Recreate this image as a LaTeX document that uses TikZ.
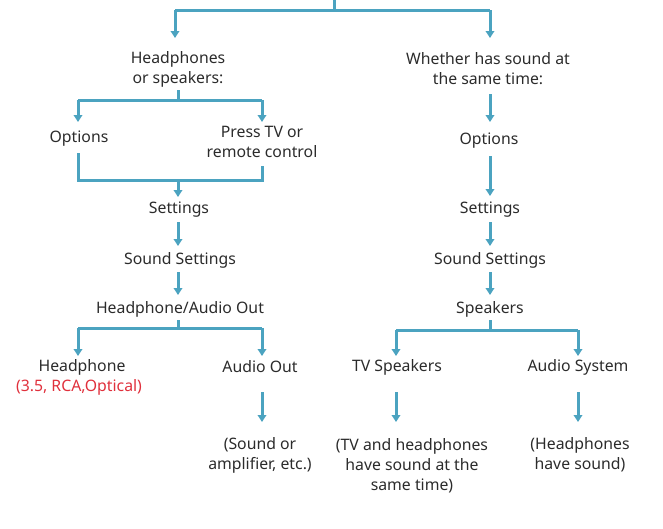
\documentclass[tikz,border=0pt]{standalone}
\usepackage{fontspec}
\setmainfont{Noto Sans}
\usetikzlibrary{arrows.meta}
\definecolor{ln}{HTML}{4BA3C0}
\definecolor{tx}{HTML}{2B2B2B}
\definecolor{rd}{HTML}{E0303C}
\begin{document}
\begin{tikzpicture}[x=1pt,y=-1pt,
  every node/.style={font=\fontsize{15.8}{20}\selectfont,text=tx,align=center,inner sep=1pt},
  ln/.style={draw=ln,line width=3pt},
  ar/.style={ln,-{Triangle[width=8.5pt,length=7pt]}}]
\useasboundingbox (0,0) rectangle (663,528);
% nodes
\node (hs) at (178,69) {Headphones\\or speakers:};
\node (ws) at (488,69) {Whether has sound at\\the same time:};
\node (o1) at (79,139) {Options};
\node (pt) at (262,142) {Press TV or\\remote control};
\node (s1) at (179,210) {Settings};
\node (ss1) at (180,260) {Sound Settings};
\node (ha) at (180,309) {Headphone/Audio Out};
\node (hp) at (82,367) {Headphone};
\node[text=rd] (rca) at (79,387) {(3.5, RCA,Optical)};
\node (ao) at (260,367) {Audio Out};
\node (sa) at (260,455) {(Sound or\\amplifier, etc.)};
\node (o2) at (489,141) {Options};
\node (s2) at (490,210) {Settings};
\node (ss2) at (490,260) {Sound Settings};
\node (sp) at (490,309) {Speakers};
\node (tv) at (397,367) {TV Speakers};
\node (as) at (578,367) {Audio System};
\node (tvh) at (412,466) {(TV and headphones\\have sound at the\\same time)};
\node (hh) at (580,455) {(Headphones\\have sound)};
% junction coordinates
\coordinate (t0) at (334,0); \coordinate (t1) at (334,10);
\coordinate (tl) at (175,10); \coordinate (tr) at (490,10);
\coordinate (a1) at (178,90); \coordinate (a2) at (178,100);
\coordinate (al) at (78,100); \coordinate (ar) at (262,100);
\coordinate (b1) at (78,153); \coordinate (b2) at (262,166);
\coordinate (bl) at (78,180); \coordinate (br) at (262,180); \coordinate (bm) at (178,180);
\coordinate (c1) at (178,320); \coordinate (c2) at (178,328);
\coordinate (cl) at (78,328); \coordinate (cr) at (262,328);
\coordinate (d1) at (490,320); \coordinate (d2) at (490,330);
\coordinate (dl) at (396,330); \coordinate (dr) at (578,330);
% connectors
\draw[ln] (t0) -- (t1);
\draw[ln] (tl) -- (tr);
\draw[ar] (tl) -- (175,38);
\draw[ar] (tr) -- (490,38);
\draw[ln] (a1) -- (a2);
\draw[ln] (al) -- (ar);
\draw[ar] (al) -- (78,122);
\draw[ar] (ar) -- (262,122);
\draw[ln] (b1) -- (bl) -- (br) -- (b2);
\draw[ar] (bm) -- (178,197);
\draw[ar] (178,222) -- (178,246);
\draw[ar] (178,272) -- (178,295);
\draw[ln] (c1) -- (c2);
\draw[ln] (cl) -- (cr);
\draw[ar] (cl) -- (78,356);
\draw[ar] (cr) -- (262,356);
\draw[ar] (262,392) -- (262,422);
\draw[ar] (490,94) -- (490,122);
\draw[ar] (490,156) -- (490,196);
\draw[ar] (490,222) -- (490,246);
\draw[ar] (490,272) -- (490,295);
\draw[ln] (d1) -- (d2);
\draw[ln] (dl) -- (dr);
\draw[ar] (dl) -- (396,356);
\draw[ar] (dr) -- (578,356);
\draw[ar] (396,392) -- (396,422);
\draw[ar] (578,392) -- (578,422);
\end{tikzpicture}
\end{document}
